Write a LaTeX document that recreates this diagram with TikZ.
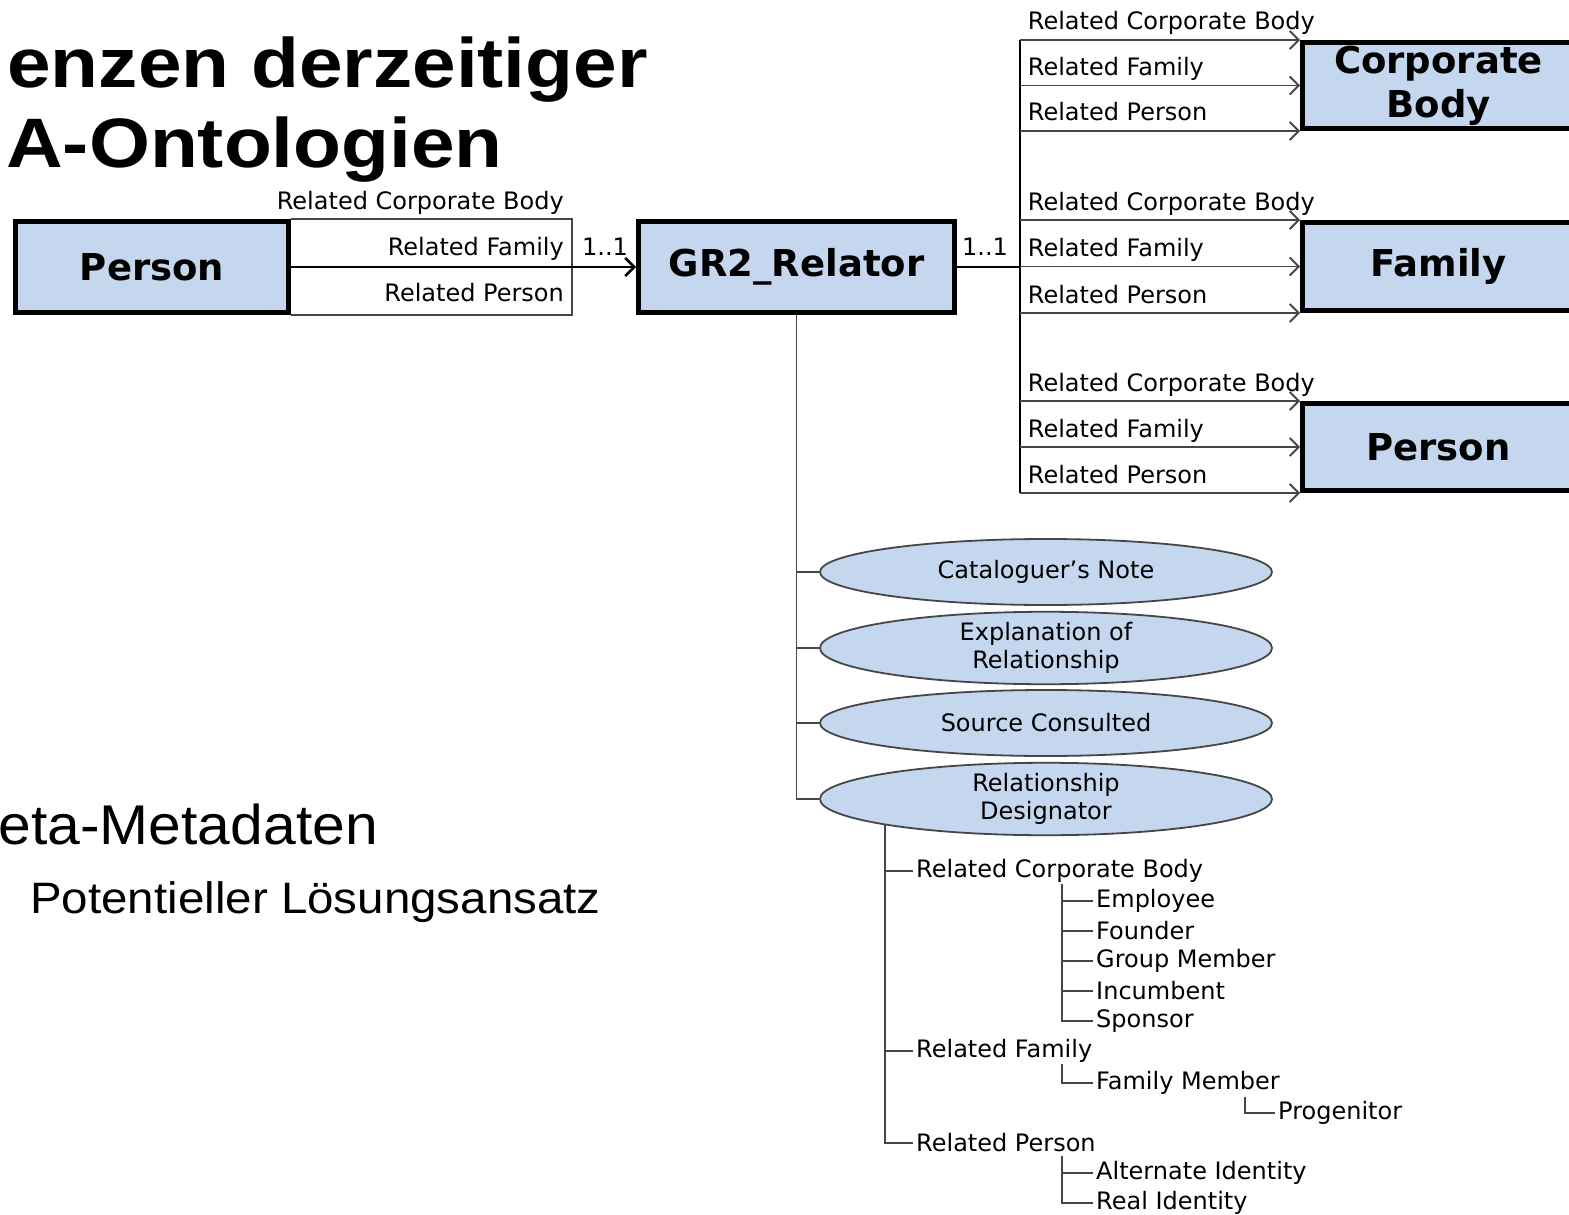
\documentclass[tikz,border=0pt]{standalone}
\usepackage{fontspec}
\setmainfont{DejaVu Sans}
\newfontfamily\slidefont{Liberation Sans}
\usetikzlibrary{arrows.meta,shapes.geometric}

\definecolor{boxblue}{RGB}{197,215,239}
\definecolor{linegray}{RGB}{70,70,70}

\begin{document}
\begin{tikzpicture}[x=1pt, y=-1pt,
	entity/.style={draw, rectangle, line width=5pt, fill=boxblue, inner sep=0pt, align=center, font=\fontsize{37}{44}\selectfont\bfseries},
	attr/.style={draw=linegray, ellipse, line width=1.8pt, fill=boxblue, inner sep=0pt, minimum width=452, minimum height=66, align=center, font=\fontsize{24}{28}\selectfont},
	rel/.style={inner sep=0pt, font=\fontsize{24}{28}\selectfont},
	item/.style={anchor=west, inner sep=3pt, font=\fontsize{24}{28}\selectfont},
	conn/.style={draw, line width=2.5pt},
	link/.style={draw=linegray, line width=1.8pt},
	arr/.style={link, -{Straight Barb[length=9pt, width=18pt]}},
	tree/.style={draw=linegray, line width=1.8pt}]
	\fill[white] (0,0) rectangle (1569,1215);
	\useasboundingbox (0,0) rectangle (1569,1215);

	% slide text
	\node[anchor=base east, inner sep=0pt, xscale=1.12, font=\slidefont\fontsize{70}{70}\selectfont\bfseries] (title1) at (648,88) {enzen derzeitiger};
	\node[anchor=base east, inner sep=0pt, xscale=1.12, font=\slidefont\fontsize{70}{70}\selectfont\bfseries] (title2) at (503,167) {A-Ontologien};
	\node[anchor=base east, inner sep=0pt, xscale=1.05, font=\slidefont\fontsize{56}{56}\selectfont] (meta) at (378,844) {eta-Metadaten};
	\node[anchor=base west, inner sep=0pt, xscale=1.08, font=\slidefont\fontsize{44}{44}\selectfont] (idea) at (30,913) {Potentieller Lösungsansatz};

	% entities
	\node[entity, minimum width=273, minimum height=91] (person) at (152,267) {Person};
	\node[entity, minimum width=316, minimum height=91] (relator) at (796.5,267) {GR2\_Relator};
	\node[entity, minimum width=272, minimum height=86] (corp) at (1438.5,85.5) {Corporate\\Body};
	\node[entity, minimum width=272, minimum height=88] (family) at (1438.5,266.5) {Family};
	\node[entity, minimum width=272, minimum height=87] (person2) at (1438.5,447) {Person};

	% left side
	\coordinate (lbend) at (572,267);
	\draw[link] (person.north east) -| (lbend) |- (person.south east);
	\draw[conn, -{Straight Barb[length=9pt, width=18pt]}] (person) -- (relator);
	\node[rel, anchor=base east] (l1) at (564,209) {Related Corporate Body};
	\node[rel, anchor=base east] (l2) at (564,255) {Related Family};
	\node[rel, anchor=base east] (l3) at (564,301) {Related Person};
	\node[rel, anchor=base west] (m1) at (582,255) {1..1};

	% right side
	\coordinate (trunk) at (1020,267);
	\draw[conn] (relator) -- (trunk);
	\node[rel, anchor=base west] (m2) at (962,255) {1..1};
	\draw[conn] (trunk |- corp.north west) -- (trunk |- person2.south west);
	\foreach \b in {corp,family,person2}{
		\foreach \a/\t in {north west/Related Corporate Body, west/Related Family, south west/Related Person}
			\draw[arr] (trunk |- \b.\a) -- (\b.\a) node[rel, pos=0, anchor=base west, xshift=7pt, yshift=10pt] {\t};
	}

	% attributes
	\node[attr] (note) at (1046,572) {Cataloguer’s Note};
	\node[attr] (expl) at (1046,648) {Explanation of\\Relationship};
	\node[attr] (src) at (1046,723) {Source Consulted};
	\node[attr] (desig) at (1046,799) {Relationship\\Designator};
	\draw[tree] (relator) |- (desig.west);
	\foreach \e in {note,expl,src}
		\draw[tree] (relator.south |- \e.west) -- (\e.west);

	% designator tree
	\node[item] (rcb) at (913,871) {Related Corporate Body};
	\node[item] (emp) at (1093,901) {Employee};
	\node[item] (fou) at (1093,931) {Founder};
	\node[item] (grp) at (1093,961) {Group Member};
	\node[item] (inc) at (1093,991) {Incumbent};
	\node[item] (spo) at (1093,1021) {Sponsor};
	\node[item] (rf) at (913,1051) {Related Family};
	\node[item] (fam) at (1093,1083) {Family Member};
	\node[item] (pro) at (1275,1113) {Progenitor};
	\node[item] (rp) at (913,1143) {Related Person};
	\node[item] (alt) at (1093,1173) {Alternate Identity};
	\node[item] (real) at (1093,1203) {Real Identity};

	\coordinate (dtop) at (885,824);
	\coordinate (sub1) at (1062,884);
	\coordinate (sub2) at (1062,1064);
	\coordinate (sub3) at (1245,1097);
	\coordinate (sub4) at (1062,1156);
	\draw[tree] (dtop) |- (rp.west);
	\foreach \n in {rcb,rf}
		\draw[tree] (dtop |- \n.west) -- (\n.west);
	\draw[tree] (sub1) |- (spo.west);
	\foreach \n in {emp,fou,grp,inc}
		\draw[tree] (sub1 |- \n.west) -- (\n.west);
	\draw[tree] (sub2) |- (fam.west);
	\draw[tree] (sub3) |- (pro.west);
	\draw[tree] (sub4) |- (real.west);
	\draw[tree] (sub4 |- alt.west) -- (alt.west);
\end{tikzpicture}
\end{document}
